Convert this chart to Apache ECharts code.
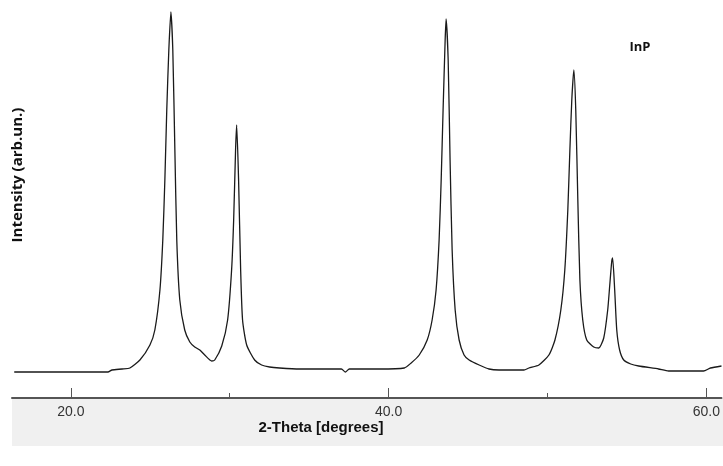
<!DOCTYPE html>
<html><head><meta charset="utf-8">
<script src="https://cdn.jsdelivr.net/npm/echarts@6/dist/echarts.min.js"></script>
<style>html,body{margin:0;padding:0;background:#fff}#c{width:723px;height:466px}</style>
</head><body><div id="c"></div>
<script>
// 2-theta (degrees)
var twoTheta = [16.44,19.33,22.34,22.59,23.22,23.72,24.35,24.98,25.29,25.61,25.79,25.92,26.04,26.17,26.30,26.42,26.55,26.67,26.86,27.17,27.49,27.80,28.12,28.43,28.87,29.06,29.50,29.87,30.12,30.25,30.37,30.44,30.56,30.69,30.81,31.07,31.57,32.01,32.51,33.14,34.39,37.03,37.28,37.53,39.42,40.99,41.42,41.93,42.43,42.74,42.99,43.18,43.31,43.43,43.56,43.62,43.75,43.87,44.00,44.19,44.44,44.75,45.07,45.70,46.32,46.95,48.52,48.83,49.46,50.09,50.47,50.84,51.09,51.28,51.41,51.53,51.66,51.78,51.91,52.04,52.22,52.47,52.91,53.23,53.54,53.79,53.92,54.04,54.10,54.23,54.36,54.54,54.80,55.24,55.74,56.99,57.62,59.82,60.26,60.95];
// intensity (arb. units)
var intensity = [260,260,260,280,290,300,380,530,680,1080,1580,2180,2880,3480,3860,3480,2480,1580,980,680,560,510,480,430,370,380,520,780,1280,1780,2480,2730,2180,1280,780,530,380,330,310,300,290,290,260,290,290,300,350,430,580,780,1080,1580,2180,2880,3580,3790,3380,2380,1480,880,580,430,380,330,290,280,280,300,330,430,580,880,1280,1880,2480,2980,3280,2880,1980,1180,780,580,510,500,600,880,1130,1360,1400,1080,680,480,380,340,320,290,270,270,300,320];
var xTickLabels = [20, 40, 60];
var xMinorTicks = [30, 50];
var yLabel = 'Intensity (arb.un.)';
var xLabel = '2-Theta [degrees]';
var sampleLabel = 'InP';

var data = twoTheta.map(function(x,i){return [x,intensity[i]];});
var chart = echarts.init(document.getElementById('c'));
chart.setOption({
  animation:false,
  backgroundColor:'#fff',
  graphic:[
    {type:'rect',shape:{x:12,y:398,width:711,height:48},style:{fill:'#f0f0f0'},z:-10},
    {type:'text',x:18,y:175,rotation:Math.PI/2,style:{text:yLabel,font:'bold 15px "Open Sans"',fill:'#111',align:'center',verticalAlign:'middle'}},
    {type:'text',x:321,y:428,style:{text:xLabel,font:'bold 15px "Liberation Sans"',fill:'#111',align:'center',verticalAlign:'middle'}},
    {type:'text',x:640,y:47,style:{text:sampleLabel,font:'bold 13px "Open Sans"',fill:'#111',align:'center',verticalAlign:'middle'}}
  ],
  grid:{left:12,right:0,top:0,bottom:68},
  xAxis:[{
    type:'value',min:16.3,max:60.95,
    axisLine:{show:true,lineStyle:{color:'#555',width:2}},
    axisTick:{show:true,inside:false,length:-10,customValues:xTickLabels,lineStyle:{color:'#555',width:1}},
    axisLabel:{show:true,customValues:xTickLabels,formatter:function(v){return v.toFixed(1);},color:'#333',fontSize:14,fontFamily:'Liberation Sans',margin:7},
    splitLine:{show:false}
  },{
    type:'value',min:16.3,max:60.95,position:'bottom',
    axisLine:{show:false},
    axisTick:{show:true,inside:false,length:-5,customValues:xMinorTicks,lineStyle:{color:'#555',width:1}},
    axisLabel:{show:false},splitLine:{show:false}
  }],
  yAxis:{type:'value',min:0,max:3980,show:false},
  series:[{type:'line',data:data,showSymbol:false,smooth:0.2,lineStyle:{color:'#1a1a1a',width:1.3},xAxisIndex:0}]
});
</script></body></html>
